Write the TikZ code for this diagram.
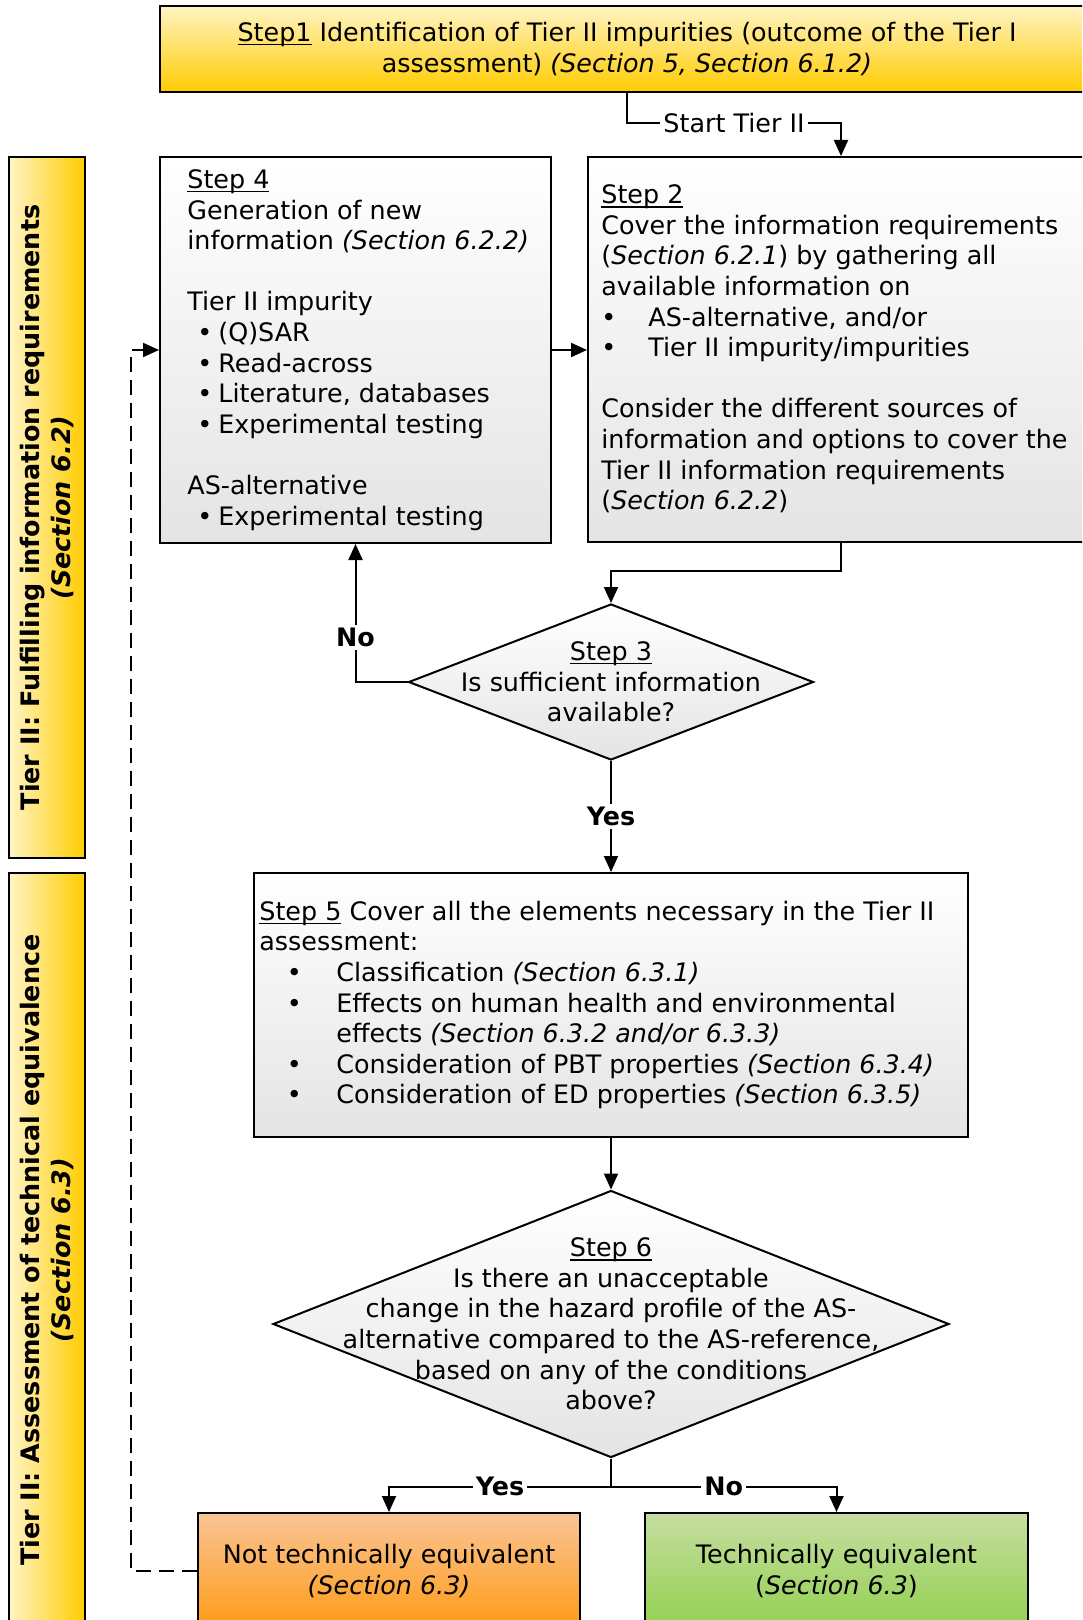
\documentclass[tikz,border=0pt]{standalone}
\usepackage{fontspec}
\setmainfont{DejaVu Sans}
\usetikzlibrary{shapes.geometric,arrows.meta,calc}
\definecolor{goldA}{RGB}{255,244,196}
\definecolor{goldB}{RGB}{255,204,0}
\definecolor{grayB}{RGB}{228,228,228}
\definecolor{orA}{RGB}{249,196,150}
\definecolor{orB}{RGB}{255,155,20}
\definecolor{grA}{RGB}{198,222,160}
\definecolor{grB}{RGB}{146,208,80}
\newcommand{\bulA}{\makebox[15.5pt][l]{\hspace{5pt}\textbullet}}
\newcommand{\bulB}{\makebox[23.5pt][l]{\textbullet}}
\newcommand{\bulC}{\makebox[38.5pt][l]{\hspace{13.75pt}\textbullet}}
\newsavebox{\ulbox}
\newcommand{\myul}[1]{\sbox{\ulbox}{#1}\rlap{\rule[-1.9pt]{\wd\ulbox}{0.7pt}}\usebox{\ulbox}}
\begin{document}
\fontsize{12.7}{15.3}\selectfont
\begin{tikzpicture}[x=0.5pt,y=-0.5pt,
  box/.style={draw, line width=1pt, rectangle, inner sep=0pt, align=center},
  graybox/.style={box, top color=white, bottom color=grayB},
  golddia/.style={draw, line width=1pt, diamond, inner sep=0pt, top color=white, bottom color=grayB},
  banner/.style={draw, line width=1pt, rectangle, inner sep=0pt, left color=goldA, right color=goldB},
  txt/.style={align=left, inner sep=0pt, anchor=west},
  ctxt/.style={align=center, inner sep=0pt},
  arr/.style={line width=1pt, -{Triangle[length=8pt,width=7pt]}},
  lbl/.style={fill=white, inner sep=1.5pt},
]
\useasboundingbox (0,0) rectangle (1082,1620);
\clip (0,0) rectangle (1082,1620);

% banners
\node[banner, minimum width=38pt, minimum height=350.5pt] (b1) at (47,507.5) {};
\node[ctxt, rotate=90, font=\bfseries] (tb1) at (b1.center) {Tier II: Fulfilling information requirements\\\textit{(Section 6.2)}};
\node[banner, minimum width=38pt, minimum height=377pt] (b2) at (47,1250) {};
\node[ctxt, rotate=90, font=\bfseries] (tb2) at (b2.center) {Tier II: Assessment of technical equivalence\\\textit{(Section 6.3)}};

% step 1
\node[box, top color=goldA, bottom color=goldB, minimum width=467pt, minimum height=43pt] (s1) at (627,49)
 {\myul{Step1} Identification of Tier II impurities (outcome of the Tier I\\assessment) \textit{(Section 5, Section 6.1.2)}};

% step 4
\node[graybox, minimum width=195.5pt, minimum height=193pt] (s4) at (355.5,350) {};
\node[txt] (t4) at (187,350) {\myul{Step 4}\\
Generation of new\\
information \textit{(Section 6.2.2)}\\[15.3pt]
Tier II impurity\\
\bulA(Q)SAR\\
\bulA Read-across\\
\bulA Literature, databases\\
\bulA Experimental testing\\[15.3pt]
AS-alternative\\
\bulA Experimental testing};

% step 2
\node[graybox, minimum width=253pt, minimum height=192.5pt] (s2) at (841,349.5) {};
\node[txt] (t2) at (601,349) {\myul{Step 2}\\
Cover the information requirements\\
(\textit{Section 6.2.1}) by gathering all\\
available information on\\
\bulB AS-alternative, and/or\\
\bulB Tier II impurity/impurities\\[15.3pt]
Consider the different sources of\\
information and options to cover the\\
Tier II information requirements\\
(\textit{Section 6.2.2})};

% step 3
\node[golddia, minimum width=202.5pt, minimum height=78pt] (d3) at (611,682) {};
\node[ctxt] (t3) at (d3.center) {\myul{Step 3}\\Is sufficient information\\available?};

% step 5
\node[graybox, minimum width=357pt, minimum height=132pt] (s5) at (611,1005) {};
\node[txt] (t5) at (259,1005) {\myul{Step 5} Cover all the elements necessary in the Tier II\\
assessment:\\
\bulC Classification \textit{(Section 6.3.1)}\\
\bulC Effects on human health and environmental\\
\hspace*{38.5pt}effects \textit{(Section 6.3.2 and/or 6.3.3)}\\
\bulC Consideration of PBT properties \textit{(Section 6.3.4)}\\
\bulC Consideration of ED properties \textit{(Section 6.3.5)}};

% step 6
\node[golddia, minimum width=338pt, minimum height=133.5pt] (d6) at (611,1324) {};
\node[ctxt] (t6) at (d6.center) {\myul{Step 6}\\Is there an unacceptable\\change in the hazard profile of the AS-\\alternative compared to the AS-reference,\\based on any of the conditions\\above?};

% outcomes
\node[box, top color=orA, bottom color=orB, minimum width=191pt, minimum height=58pt] (nte) at (389,1571)
 {Not technically equivalent\\\textit{(Section 6.3)}};
\node[box, top color=grA, bottom color=grB, minimum width=191.5pt, minimum height=58pt] (te) at (836.5,1571)
 {Technically equivalent\\(\textit{Section 6.3})};

% connectors
\draw[arr] (s1.south) -- ++(0,30) -| node[lbl, pos=0.25]{Start Tier II} (s2.north);
\draw[arr] (s4.east) -- (s4.east -| s2.west);
\draw[arr] (s2.south) -- ++(0,28) -| (d3.north);
\draw[arr] (d3.west) -| node[lbl, pos=0.66, font=\bfseries]{No} (s4.south);
\draw[arr] (d3.south) -- node[lbl, font=\bfseries]{Yes} (s5.north);
\draw[arr] (s5.south) -- (d6.north);
\draw[arr] (d6.south) -- ++(0,28) -| node[lbl, pos=0.25, font=\bfseries]{Yes} (nte.north);
\draw[arr] (d6.south) -- ++(0,28) -| node[lbl, pos=0.25, font=\bfseries]{No} (te.north);
\draw[arr, dash pattern=on 7.5pt off 4pt] (nte.west) -- ++(-66,0) |- (s4.west);
\end{tikzpicture}
\end{document}
